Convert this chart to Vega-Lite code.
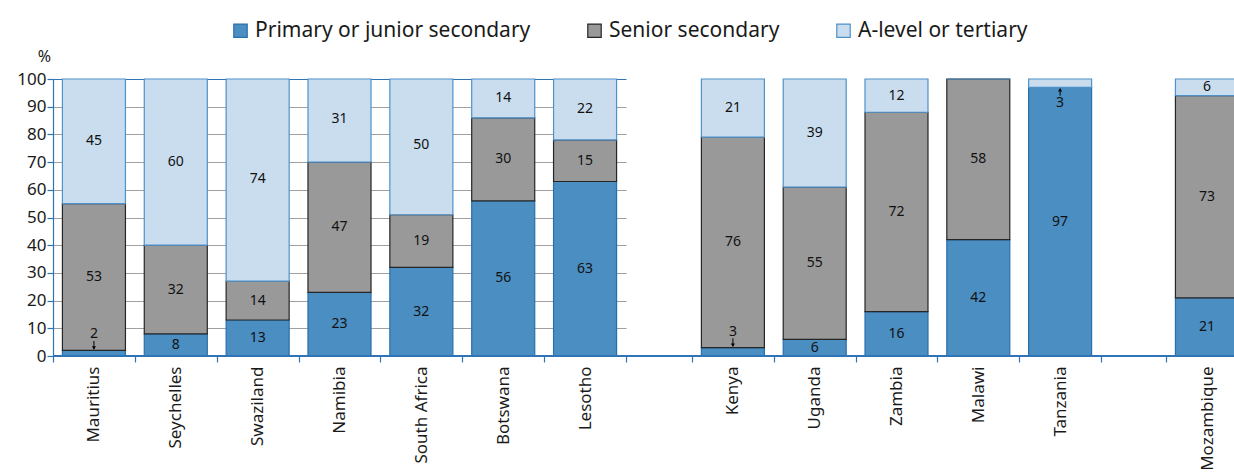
{
  "$schema": "https://vega.github.io/schema/vega-lite/v6.json",
  "width": 1181,
  "height": 277,
  "autosize": "none",
  "padding": {"left": 53, "top": 79, "right": 0, "bottom": 120},
  "background": "white",
  "config": {
    "font": "Noto Sans",
    "view": {"stroke": null},
    "axisX": {
      "domain": false,
      "grid": false,
      "ticks": true,
      "labelAngle": -90,
      "labelAlign": "right",
      "labelBaseline": "middle",
      "labelFontSize": 17,
      "labelColor": "#1a1a1a",
      "tickColor": "#2e75b6",
      "tickWidth": 1.2,
      "tickSize": 6,
      "labelPadding": 4,
      "title": null
    },
    "axisY": {
      "grid": true,
      "gridColor": {"condition": {"test": "datum.value === 100", "value": "#2e75b6"}, "value": "#a0a0a0"},
      "gridWidth": 1,
      "domain": true,
      "domainColor": "#2e75b6",
      "domainWidth": 1.2,
      "ticks": true,
      "tickColor": "#2e75b6",
      "tickWidth": 1.2,
      "tickSize": 6,
      "labelFontSize": 17,
      "labelColor": "#1a1a1a",
      "labelPadding": 1,
      "labelOverlap": false,
      "titleAngle": 0,
      "titleX": -9,
      "titleY": -23,
      "titleAlign": "center",
      "titleBaseline": "middle",
      "titleFontSize": 16,
      "titleFontWeight": "normal",
      "titleColor": "#1a1a1a"
    },
    "legend": {
      "orient": "none",
      "legendX": 177,
      "legendY": -59,
      "direction": "horizontal",
      "symbolType": "square",
      "symbolSize": 180,
      "symbolStrokeWidth": 1.2,
      "labelFontSize": 21,
      "labelColor": "#1a1a1a",
      "labelLimit": 500,
      "labelOffset": 4,
      "columnPadding": 53,
      "padding": 0
    }
  },
  "data": {
    "values": [
      {"country": "Mauritius", "level": "Primary or junior secondary", "value": 2},
      {"country": "Mauritius", "level": "Senior secondary", "value": 53},
      {"country": "Mauritius", "level": "A-level or tertiary", "value": 45},
      {"country": "Seychelles", "level": "Primary or junior secondary", "value": 8},
      {"country": "Seychelles", "level": "Senior secondary", "value": 32},
      {"country": "Seychelles", "level": "A-level or tertiary", "value": 60},
      {"country": "Swaziland", "level": "Primary or junior secondary", "value": 13},
      {"country": "Swaziland", "level": "Senior secondary", "value": 14},
      {"country": "Swaziland", "level": "A-level or tertiary", "value": 74},
      {"country": "Namibia", "level": "Primary or junior secondary", "value": 23},
      {"country": "Namibia", "level": "Senior secondary", "value": 47},
      {"country": "Namibia", "level": "A-level or tertiary", "value": 31},
      {"country": "South Africa", "level": "Primary or junior secondary", "value": 32},
      {"country": "South Africa", "level": "Senior secondary", "value": 19},
      {"country": "South Africa", "level": "A-level or tertiary", "value": 50},
      {"country": "Botswana", "level": "Primary or junior secondary", "value": 56},
      {"country": "Botswana", "level": "Senior secondary", "value": 30},
      {"country": "Botswana", "level": "A-level or tertiary", "value": 14},
      {"country": "Lesotho", "level": "Primary or junior secondary", "value": 63},
      {"country": "Lesotho", "level": "Senior secondary", "value": 15},
      {"country": "Lesotho", "level": "A-level or tertiary", "value": 22},
      {"country": "Kenya", "level": "Primary or junior secondary", "value": 3},
      {"country": "Kenya", "level": "Senior secondary", "value": 76},
      {"country": "Kenya", "level": "A-level or tertiary", "value": 21},
      {"country": "Uganda", "level": "Primary or junior secondary", "value": 6},
      {"country": "Uganda", "level": "Senior secondary", "value": 55},
      {"country": "Uganda", "level": "A-level or tertiary", "value": 39},
      {"country": "Zambia", "level": "Primary or junior secondary", "value": 16},
      {"country": "Zambia", "level": "Senior secondary", "value": 72},
      {"country": "Zambia", "level": "A-level or tertiary", "value": 12},
      {"country": "Malawi", "level": "Primary or junior secondary", "value": 42},
      {"country": "Malawi", "level": "Senior secondary", "value": 58},
      {"country": "Malawi", "level": "A-level or tertiary", "value": 0},
      {"country": "Tanzania", "level": "Primary or junior secondary", "value": 97},
      {"country": "Tanzania", "level": "Senior secondary", "value": 0},
      {"country": "Tanzania", "level": "A-level or tertiary", "value": 3},
      {"country": "Mozambique", "level": "Primary or junior secondary", "value": 21},
      {"country": "Mozambique", "level": "Senior secondary", "value": 73},
      {"country": "Mozambique", "level": "A-level or tertiary", "value": 6}
    ]
  },
  "transform": [
    {"calculate": "indexof(['Primary or junior secondary','Senior secondary','A-level or tertiary'], datum.level)", "as": "ord"},
    {"stack": "value", "groupby": ["country"], "sort": [{"field": "ord", "order": "ascending"}], "as": ["y0", "y1"]},
    {"calculate": "datum.value > 0 && datum.value < 5", "as": "small"},
    {"calculate": "datum.small ? (datum.ord == 2 ? datum.y0 - 5.5 : datum.y1 + 5.8) : (datum.y0 + datum.y1) / 2", "as": "ly"},
    {"calculate": "datum.ord == 2 ? datum.y0 - 3.0 : datum.y1 + 3.4", "as": "a0"},
    {"calculate": "datum.ord == 2 ? datum.y0 - 0.6 : datum.y1 + 0.6", "as": "a1"},
    {"calculate": "datum.ord == 2 ? datum.y0 - 0.9 : datum.y1 + 0.9", "as": "ah"},
    {"calculate": "datum.ord == 2 ? 'triangle-up' : 'triangle-down'", "as": "dir"}
  ],
  "layer": [
    {
      "transform": [{"filter": {"field": "country", "oneOf": ["Mauritius", "Seychelles", "Swaziland", "Namibia", "South Africa", "Botswana", "Lesotho"]}}],
      "encoding": {
        "x": {
          "field": "country", "type": "nominal",
          "scale": {"domain": ["Mauritius", "Seychelles", "Swaziland", "Namibia", "South Africa", "Botswana", "Lesotho"], "range": [0, 573], "paddingInner": 0.23, "paddingOuter": 0.115},
          "axis": {"orient": "bottom", "bandPosition": 1.2987, "tickExtra": true, "tickOffset": -9.41, "labelOffset": 9.41}
        }
      },
      "layer": [
        {
          "mark": {"type": "bar", "strokeWidth": 1.2},
          "encoding": {
            "y": {
              "field": "y0", "type": "quantitative", "title": "%",
              "scale": {"domain": [0, 100], "clamp": true, "nice": false},
              "axis": {"values": [0, 10, 20, 30, 40, 50, 60, 70, 80, 90, 100], "title": "%"}
            },
            "y2": {"field": "y1"},
            "fill": {
              "field": "level", "type": "nominal", "title": null,
              "scale": {"domain": ["Primary or junior secondary", "Senior secondary", "A-level or tertiary"], "range": ["#4b8ec1", "#999999", "#c9ddee"]}
            },
            "stroke": {
              "field": "level", "type": "nominal", "title": null,
              "scale": {"domain": ["Primary or junior secondary", "Senior secondary", "A-level or tertiary"], "range": ["#2a6fad", "#262626", "#4f91c9"]}
            }
          }
        },
        {
          "transform": [{"filter": "datum.value > 0"}],
          "mark": {"type": "text", "fontSize": 14, "color": "#111111", "baseline": "middle"},
          "encoding": {
            "y": {"field": "ly", "type": "quantitative", "title": "%", "axis": {"values": [0, 10, 20, 30, 40, 50, 60, 70, 80, 90, 100], "title": "%"}},
            "text": {"field": "value", "type": "quantitative"}
          }
        },
        {
          "transform": [{"filter": "datum.small"}],
          "mark": {"type": "rule", "color": "#000000", "strokeWidth": 1},
          "encoding": {
            "y": {"field": "a0", "type": "quantitative", "title": "%", "axis": {"values": [0, 10, 20, 30, 40, 50, 60, 70, 80, 90, 100], "title": "%"}},
            "y2": {"field": "a1"}
          }
        },
        {
          "transform": [{"filter": "datum.small"}],
          "mark": {"type": "point", "filled": true, "color": "#000000", "opacity": 1, "size": 16},
          "encoding": {
            "y": {"field": "ah", "type": "quantitative", "title": "%", "axis": {"values": [0, 10, 20, 30, 40, 50, 60, 70, 80, 90, 100], "title": "%"}},
            "shape": {"field": "dir", "type": "nominal", "scale": null, "legend": null}
          }
        }
      ]
    },
    {
      "transform": [{"filter": {"field": "country", "oneOf": ["Kenya", "Uganda", "Zambia", "Malawi", "Tanzania"]}}],
      "encoding": {
        "x": {
          "field": "country", "type": "nominal",
          "scale": {"domain": ["Kenya", "Uganda", "Zambia", "Malawi", "Tanzania"], "range": [639, 1048], "paddingInner": 0.23, "paddingOuter": 0.115},
          "axis": {"orient": "bottom", "bandPosition": 1.2987, "tickExtra": true, "tickOffset": -9.41, "labelOffset": 9.41}
        }
      },
      "layer": [
        {
          "mark": {"type": "bar", "strokeWidth": 1.2},
          "encoding": {
            "y": {"field": "y0", "type": "quantitative", "title": "%", "axis": {"values": [0, 10, 20, 30, 40, 50, 60, 70, 80, 90, 100], "title": "%"}},
            "y2": {"field": "y1"},
            "fill": {"field": "level", "type": "nominal", "title": null},
            "stroke": {"field": "level", "type": "nominal", "title": null}
          }
        },
        {
          "transform": [{"filter": "datum.value > 0"}],
          "mark": {"type": "text", "fontSize": 14, "color": "#111111", "baseline": "middle"},
          "encoding": {
            "y": {"field": "ly", "type": "quantitative", "title": "%", "axis": {"values": [0, 10, 20, 30, 40, 50, 60, 70, 80, 90, 100], "title": "%"}},
            "text": {"field": "value", "type": "quantitative"}
          }
        },
        {
          "transform": [{"filter": "datum.small"}],
          "mark": {"type": "rule", "color": "#000000", "strokeWidth": 1},
          "encoding": {
            "y": {"field": "a0", "type": "quantitative", "title": "%", "axis": {"values": [0, 10, 20, 30, 40, 50, 60, 70, 80, 90, 100], "title": "%"}},
            "y2": {"field": "a1"}
          }
        },
        {
          "transform": [{"filter": "datum.small"}],
          "mark": {"type": "point", "filled": true, "color": "#000000", "opacity": 1, "size": 16},
          "encoding": {
            "y": {"field": "ah", "type": "quantitative", "title": "%", "axis": {"values": [0, 10, 20, 30, 40, 50, 60, 70, 80, 90, 100], "title": "%"}},
            "shape": {"field": "dir", "type": "nominal", "scale": null, "legend": null}
          }
        }
      ]
    },
    {
      "transform": [{"filter": {"field": "country", "oneOf": ["Mozambique"]}}],
      "encoding": {
        "x": {
          "field": "country", "type": "nominal",
          "scale": {"domain": ["Mozambique"], "range": [1113, 1195], "paddingInner": 0.23, "paddingOuter": 0.115},
          "axis": {"orient": "bottom", "bandPosition": 1.2987, "tickExtra": true, "tickOffset": -9.41, "labelOffset": 9.41}
        }
      },
      "layer": [
        {
          "mark": {"type": "bar", "strokeWidth": 1.2},
          "encoding": {
            "y": {"field": "y0", "type": "quantitative", "title": "%", "axis": {"values": [0, 10, 20, 30, 40, 50, 60, 70, 80, 90, 100], "title": "%"}},
            "y2": {"field": "y1"},
            "fill": {"field": "level", "type": "nominal", "title": null},
            "stroke": {"field": "level", "type": "nominal", "title": null}
          }
        },
        {
          "transform": [{"filter": "datum.value > 0"}],
          "mark": {"type": "text", "fontSize": 14, "color": "#111111", "baseline": "middle"},
          "encoding": {
            "y": {"field": "ly", "type": "quantitative", "title": "%", "axis": {"values": [0, 10, 20, 30, 40, 50, 60, 70, 80, 90, 100], "title": "%"}},
            "text": {"field": "value", "type": "quantitative"}
          }
        }
      ]
    },
    {
      "mark": {"type": "rule", "color": "#2e75b6", "strokeWidth": 1.2},
      "encoding": {"y": {"datum": 0, "type": "quantitative", "title": "%", "axis": {"values": [0, 10, 20, 30, 40, 50, 60, 70, 80, 90, 100], "title": "%"}}}
    }
  ],
  "resolve": {"scale": {"x": "independent"}, "axis": {"x": "independent"}}
}
